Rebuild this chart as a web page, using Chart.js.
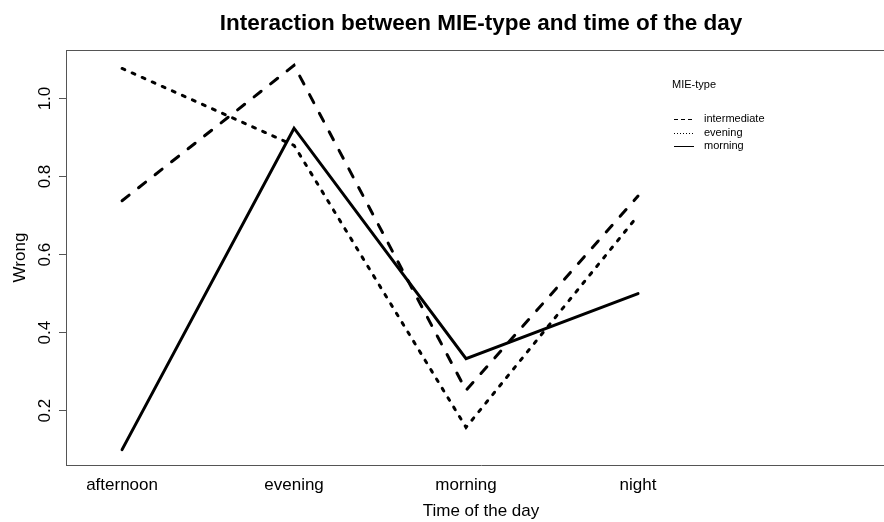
<!DOCTYPE html>
<html>
<head>
<meta charset="utf-8">
<script src="https://cdn.jsdelivr.net/npm/chart.js@4.4.1/dist/chart.umd.min.js"></script>
<style>
html, body { margin: 0; padding: 0; background: #fff; overflow: hidden; width: 884px; height: 522px; }
#wrap { width: 900px; height: 522px; }
</style>
</head>
<body>
<div id="wrap"><canvas id="c" width="900" height="522"></canvas></div>
<script>
// ---- data ----
const categories = ["afternoon", "evening", "morning", "night"];
const seriesNames = ["intermediate", "evening", "morning"];
const intermediateValues = [0.738, 1.085, 0.252, 0.75];
const eveningValues = [1.077, 0.88, 0.157, 0.70];
const morningValues = [0.10, 0.924, 0.333, 0.50];
const yTickValues = [0.2, 0.4, 0.6, 0.8, 1.0];
const yTickLabels = ["0.2", "0.4", "0.6", "0.8", "1.0"];

const FONT = "'Liberation Sans', Arial, Helvetica, sans-serif";
Chart.defaults.font.family = FONT;
Chart.defaults.color = "#000";

function toPoints(vals) { return vals.map((v, i) => ({ x: i + 1, y: v })); }

const dashStyles = [[9, 12], [3, 8], []];
const legendDash = [[4, 3], [1, 2], []];
const allValues = [intermediateValues, eveningValues, morningValues];

const datasets = seriesNames.map((name, k) => ({
  label: name,
  data: toPoints(allValues[k]),
  borderColor: "#000",
  borderWidth: 3,
  borderDash: dashStyles[k],
  borderCapStyle: "round",
  borderJoinStyle: "miter",
  pointRadius: 0,
  fill: false,
  tension: 0
}));

const boxColor = "#555";

const extrasPlugin = {
  id: "extras",
  afterDraw(chart) {
    const ctx = chart.ctx;
    const a = chart.chartArea;
    const ys = chart.scales.y;
    ctx.save();
    // top border of the box
    ctx.strokeStyle = boxColor;
    ctx.lineWidth = 1;
    ctx.beginPath();
    ctx.moveTo(a.left, a.top + 0.5);
    ctx.lineTo(a.right, a.top + 0.5);
    ctx.stroke();
    // rotated y tick labels
    ctx.fillStyle = "#000";
    ctx.font = "17px " + FONT;
    ctx.textAlign = "center";
    ctx.textBaseline = "middle";
    yTickValues.forEach((v, i) => {
      const py = ys.getPixelForValue(v);
      ctx.save();
      ctx.translate(45, py);
      ctx.rotate(-Math.PI / 2);
      ctx.fillText(yTickLabels[i], 0, 0);
      ctx.restore();
    });
    // legend
    ctx.font = "11px " + FONT;
    ctx.textAlign = "left";
    ctx.fillText("MIE-type", 672, 85);
    chart.data.datasets.forEach((ds, k) => {
      const yy = 119 + k * 13.5;
      ctx.strokeStyle = "#000";
      ctx.lineWidth = 1;
      ctx.setLineDash(legendDash[k]);
      ctx.beginPath();
      ctx.moveTo(674, Math.round(yy) + 0.5);
      ctx.lineTo(694, Math.round(yy) + 0.5);
      ctx.stroke();
      ctx.setLineDash([]);
      ctx.fillText(ds.label, 704, yy);
    });
    ctx.restore();
  }
};

new Chart(document.getElementById("c"), {
  type: "line",
  data: { datasets },
  plugins: [extrasPlugin],
  options: {
    responsive: false,
    animation: false,
    devicePixelRatio: 1,
    layout: { padding: { left: 0, right: 4, top: 0, bottom: 0 } },
    plugins: {
      legend: { display: false },
      tooltip: { enabled: false },
      title: {
        display: true,
        fullSize: false,
        text: "Interaction between MIE-type and time of the day",
        color: "#000",
        font: { size: 22.5, weight: "bold", family: FONT },
        padding: { top: 10, bottom: 13 }
      }
    },
    scales: {
      x: {
        type: "linear",
        min: 0.674,
        max: 5.5,
        afterBuildTicks: (s) => { s.ticks = categories.map((c, i) => ({ value: i + 1 })); },
        afterFit: (s) => { s.height = 57; },
        ticks: {
          callback: (v) => categories[v - 1] || "",
          font: { size: 17 },
          color: "#000",
          padding: 10,
          maxRotation: 0,
          autoSkip: false
        },
        grid: { drawOnChartArea: false, drawTicks: false },
        border: { display: true, color: boxColor, width: 1 },
        title: {
          display: true,
          text: "Time of the day",
          font: { size: 17 },
          color: "#000",
          padding: { top: 0, bottom: 0 }
        }
      },
      y: {
        type: "linear",
        min: 0.0606,
        max: 1.1244,
        afterBuildTicks: (s) => { s.ticks = yTickValues.map(v => ({ value: v })); },
        afterFit: (s) => { s.width = 66; },
        ticks: { display: false },
        grid: { drawOnChartArea: false, drawTicks: true, tickLength: 7, color: boxColor },
        border: { display: true, color: boxColor, width: 1 },
        title: {
          display: true,
          text: "Wrong",
          font: { size: 17 },
          color: "#000",
          padding: { top: 10, bottom: 0 }
        }
      }
    }
  }
});
</script>
</body>
</html>
